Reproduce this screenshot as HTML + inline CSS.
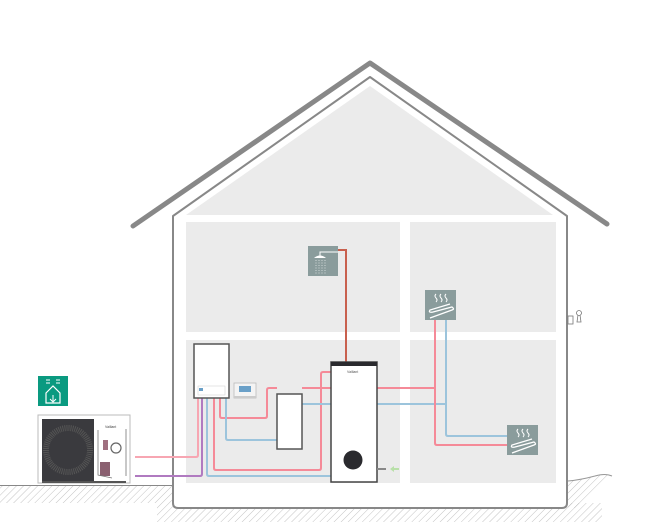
<!DOCTYPE html>
<html><head><meta charset="utf-8"><style>html,body{margin:0;padding:0;background:#fff}svg{display:block}</style></head>
<body>
<svg width="653" height="531" viewBox="0 0 653 531" xmlns="http://www.w3.org/2000/svg">
<defs>
<pattern id="h" width="5" height="5" patternUnits="userSpaceOnUse" patternTransform="rotate(45)">
<line x1="0" y1="0" x2="0" y2="5" stroke="#aaa" stroke-width="0.7"/>
</pattern>
</defs>
<!-- ground -->
<rect x="0" y="486" width="172" height="17" fill="url(#h)"/>
<rect x="157" y="503" width="445" height="19" fill="url(#h)"/>
<path d="M568 481 Q580 480 595 476 Q605 473 612 476 L580 508 L568 508Z" fill="url(#h)"/>
<line x1="0" y1="485.5" x2="173" y2="485.5" stroke="#888" stroke-width="1"/>
<path d="M568 481 Q580 480 595 476 Q605 473 612 476" fill="none" stroke="#999" stroke-width="1"/>
<!-- roof -->
<polyline points="133,226 370,63 607,224" fill="none" stroke="#888" stroke-width="5" stroke-linejoin="round" stroke-linecap="round"/>
<!-- house -->
<path d="M173 216 L370 77 L567 216 L567 503 Q567 508 562 508 L178 508 Q173 508 173 503 Z" fill="#fff" stroke="#888" stroke-width="2" stroke-linejoin="round"/>
<polygon points="186,215 370,86 553,215" fill="#ebebeb"/>
<rect x="186" y="222" width="214" height="110" fill="#ebebeb"/>
<rect x="410" y="222" width="146" height="110" fill="#ebebeb"/>
<rect x="186" y="340" width="214" height="143" fill="#ebebeb"/>
<rect x="410" y="340" width="146" height="143" fill="#ebebeb"/>
<!-- thermostat right -->
<rect x="568" y="316" width="5" height="8" fill="#fff" stroke="#777" stroke-width="0.8"/>
<circle cx="579" cy="313" r="2.5" fill="none" stroke="#777" stroke-width="0.8"/>
<path d="M578 315 L577 322 L581 322 L580 315" fill="none" stroke="#777" stroke-width="0.8"/>
<!-- pipes -->
<g fill="none" stroke-width="2">
<path d="M346 362 L346 250 L338 250" stroke="#c8604e"/>
<path d="M135 457 L196 457 Q198 457 198 455 L198 398" stroke="#f7a6b2"/>
<path d="M135 476 L200 476 Q202 476 202 474 L202 398" stroke="#b07ac0"/>
<path d="M207 398 L207 474 Q207 476 209 476 L331 476" stroke="#9cc4dc"/>
<path d="M214 398 L214 468 Q214 470 216 470 L319 470 Q321 470 321 468 L321 374 Q321 372 323 372 L331 372" stroke="#f58a98"/>
<path d="M220 398 L220 416 Q220 418 222 418 L265 418 Q267 418 267 416 L267 390 Q267 388 269 388 L277 388" stroke="#f58a98"/>
<path d="M302 388 L331 388" stroke="#f58a98"/>
<path d="M226 398 L226 438 Q226 440 228 440 L277 440" stroke="#9cc4dc"/>
<path d="M302 404 L446 404" stroke="#9cc4dc"/>
<path d="M377 388 L435 388" stroke="#f58a98"/>
<path d="M435 320 L435 443 Q435 445 437 445 L507 445" stroke="#f58a98"/>
<path d="M446 320 L446 434 Q446 436 448 436 L507 436" stroke="#9cc4dc"/>
</g>
<!-- shower -->
<rect x="308" y="246" width="30" height="30" fill="#8a9c9c"/>
<path d="M320 256 L320 252 L338 252" fill="none" stroke="#fff" stroke-width="1"/>
<path d="M314 258 Q320 253 326 258 Z" fill="#fff"/>
<g stroke="#fff" stroke-width="0.6" stroke-dasharray="1 1.5"><line x1="316" y1="260" x2="316" y2="274"/><line x1="319" y1="260" x2="319" y2="274"/><line x1="322" y1="260" x2="322" y2="274"/><line x1="325" y1="260" x2="325" y2="274"/></g>
<!-- floor heating icons -->
<g id="fh">
<rect x="425" y="290" width="31" height="30" fill="#8a9c9c"/>
<path d="M436 294 q-2 2 0 4 q2 2 0 4 M441 294 q-2 2 0 4 q2 2 0 4 M446 294 q-2 2 0 4 q2 2 0 4" fill="none" stroke="#fff" stroke-width="1"/>
<path d="M430 318 L452 310 Q455 309 452 307 L433 312 Q428 313 430 310 L450 304" fill="none" stroke="#fff" stroke-width="1.3"/>
</g>
<use href="#fh" transform="translate(82,135)"/>
<!-- tank -->
<rect x="331" y="362" width="46" height="120" fill="#fff" stroke="#444" stroke-width="1.5"/>
<rect x="331" y="362" width="46" height="4" fill="#2a2a2e"/>
<text x="347" y="373" font-family="Liberation Sans" font-size="3.5" fill="#555">Vaillant</text>
<circle cx="353" cy="460" r="9.5" fill="#2a2a2e"/>
<rect x="377" y="468" width="9" height="2" fill="#888"/>
<path d="M390 469 L394 466 L394 468 L399 468 L399 470 L394 470 L394 472 Z" fill="#b8e0a8"/>
<!-- boiler -->
<rect x="194" y="344" width="35" height="54" fill="#fff" stroke="#555" stroke-width="1.5"/>
<rect x="198" y="386" width="27" height="9" fill="#fff" stroke="#ccc" stroke-width="0.5"/>
<rect x="199" y="388" width="4" height="3" fill="#6aa0c8"/>
<!-- controller -->
<rect x="234" y="383" width="22" height="15" fill="#f4f4f4" stroke="#bbb" stroke-width="0.8"/>
<rect x="239" y="386" width="12" height="6" fill="#6aa0c8"/>
<rect x="234" y="396" width="22" height="2" fill="#ccc"/>
<!-- buffer -->
<rect x="277" y="394" width="25" height="55" fill="#fff" stroke="#555" stroke-width="1.5"/>
<!-- outdoor unit -->
<rect x="38" y="376" width="30" height="30" fill="#0a9a80"/>
<path d="M46 393 L53 386 L60 393 L60 403 L46 403 Z" fill="none" stroke="#fff" stroke-width="1.2"/>
<path d="M53 395 L53 401 M50 399 L53 402 L56 399 M46 380 L50 380 M46 383 L50 383 M56 380 L60 380 M56 383 L60 383" fill="none" stroke="#fff" stroke-width="1"/>
<rect x="38" y="415" width="92" height="68" fill="#fff" stroke="#bbb" stroke-width="1"/>
<rect x="42" y="419" width="52" height="64" fill="#3a3a3e"/>
<circle cx="68" cy="450" r="22" fill="none" stroke="#555" stroke-width="6" stroke-dasharray="1 1"/>
<rect x="42" y="481" width="84" height="2" fill="#555"/>
<text x="105" y="428" font-family="Liberation Sans" font-size="3.5" fill="#444">Vaillant</text>
<circle cx="116" cy="448" r="5" fill="none" stroke="#666" stroke-width="1.2"/>
<rect x="103" y="440" width="5" height="10" fill="#a07080"/>
<rect x="100" y="462" width="10" height="14" fill="#8a6070"/>
<path d="M98 430 L98 475 L112 478 M126 429 L126 476" fill="none" stroke="#777" stroke-width="0.8"/>
</svg>
</body></html>
